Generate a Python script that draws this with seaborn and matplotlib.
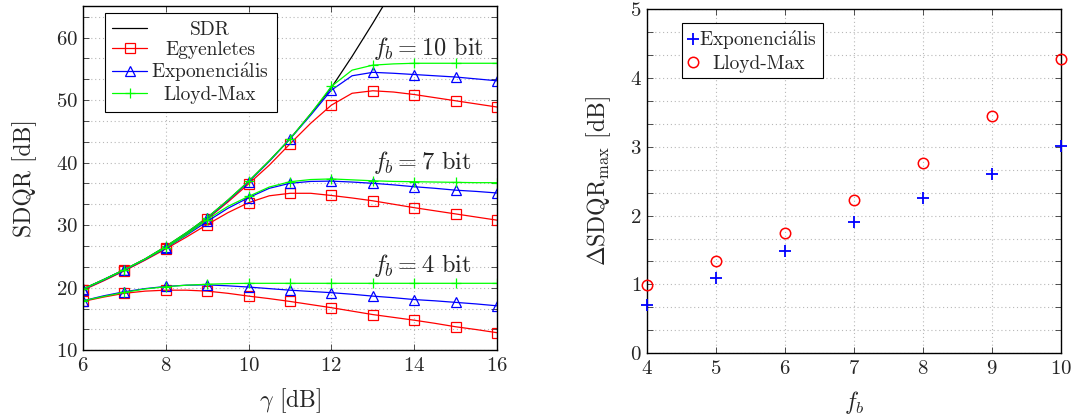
import matplotlib
matplotlib.use("Agg")
import matplotlib.pyplot as plt
import seaborn as sns
from matplotlib.ticker import MultipleLocator, AutoMinorLocator

# gamma [dB] grid (markers drawn at whole dB values only)
gamma = [6, 6.5, 7, 7.5, 8, 8.5, 9, 9.5, 10, 10.5, 11, 11.5, 12, 12.5, 13, 13.5, 14, 14.5, 15, 15.5, 16]

gamma_sdr = [6, 6.5, 7, 7.5, 8, 8.5, 9, 9.5, 10, 10.5, 11, 11.5, 12, 12.5, 13, 13.5]
sdr = [19.8, 21.3, 22.9, 24.6, 26.6, 28.8, 31.2, 34.0, 37.0, 40.3, 43.8, 47.8, 52.0, 57.0, 62.3, 67.8]

# f_b = 10 bit
egy_10 = [19.7, 21.2, 22.8, 24.5, 26.4, 28.6, 31.0, 33.7, 36.6, 39.6, 43.0, 46.3, 49.2, 51.1, 51.5,
          51.3, 50.9, 50.4, 49.9, 49.4, 48.9]
exp_10 = [19.75, 21.3, 22.85, 24.55, 26.5, 28.7, 31.1, 33.9, 36.9, 40.2, 43.8, 47.6, 51.6, 53.9, 54.45,
          54.3, 54.1, 53.9, 53.7, 53.4, 53.1]
lm_10 = [19.8, 21.3, 22.9, 24.6, 26.6, 28.8, 31.2, 34.0, 37.0, 40.3, 43.8, 47.8, 52.2, 54.8, 55.6,
         55.8, 55.9, 55.9, 55.9, 55.9, 55.9]

# f_b = 7 bit
egy_7 = [19.6, 21.1, 22.7, 24.4, 26.2, 28.1, 30.1, 32.0, 33.6, 34.7, 35.1, 35.1, 34.75, 34.35, 33.9,
         33.35, 32.8, 32.3, 31.8, 31.3, 30.8]
exp_7 = [19.7, 21.2, 22.8, 24.5, 26.35, 28.4, 30.6, 32.7, 34.4, 35.9, 36.7, 37.0, 37.05, 36.9, 36.7,
         36.45, 36.15, 35.9, 35.6, 35.4, 35.15]
lm_7 = [19.75, 21.25, 22.85, 24.55, 26.4, 28.5, 30.9, 33.0, 34.6, 36.1, 36.95, 37.3, 37.4, 37.25, 37.1,
        37.0, 36.95, 36.9, 36.85, 36.8, 36.8]

# f_b = 4 bit
egy_4 = [17.8, 18.5, 19.1, 19.45, 19.6, 19.6, 19.45, 19.1, 18.65, 18.25, 17.8, 17.3, 16.8, 16.25, 15.7,
         15.25, 14.8, 14.3, 13.75, 13.3, 12.8]
exp_4 = [17.9, 18.7, 19.35, 19.85, 20.2, 20.4, 20.45, 20.3, 20.1, 19.85, 19.6, 19.4, 19.2, 18.95, 18.65,
         18.4, 18.1, 17.9, 17.65, 17.4, 17.1]
lm_4 = [17.9, 18.6, 19.25, 19.8, 20.15, 20.4, 20.55, 20.65, 20.7, 20.7, 20.7, 20.7, 20.7, 20.7, 20.7,
        20.7, 20.7, 20.7, 20.7, 20.7, 20.7]

# jobb oldali abra
fb = [4, 5, 6, 7, 8, 9, 10]
delta_exp = [0.70, 1.10, 1.48, 1.90, 2.26, 2.60, 3.01]
delta_lm = [0.985, 1.34, 1.75, 2.22, 2.76, 3.45, 4.27]

annot_labels = ["$f_b = 10$ bit", "$f_b = 7$ bit", "$f_b = 4$ bit"]
annot_y = [58.3, 40.1, 23.6]

sns.set_style("ticks")
plt.rcParams['font.family'] = ['cmr10', 'DejaVu Serif']
plt.rcParams['mathtext.fontset'] = 'cm'
plt.rcParams['axes.formatter.use_mathtext'] = True
plt.rcParams['axes.unicode_minus'] = False

RED, BLUE, GREEN = '#ff0000', '#0000ff', '#00ff00'
grid_kw = dict(color='#b8b8b8', linestyle=(0, (1, 2.5)), linewidth=0.8)

fig = plt.figure(figsize=(10.75, 4.2), dpi=100)
ax1 = fig.add_axes([0.0772, 0.1662, 0.3851, 0.8186])
ax2 = fig.add_axes([0.6016, 0.1588, 0.3854, 0.8198])

line_kw = dict(linewidth=0.9, markevery=2, markersize=7, markerfacecolor='none',
               markeredgewidth=0.9, estimator=None, sort=False)

sns.lineplot(x=gamma_sdr, y=sdr, ax=ax1, color='black', linewidth=0.9, label='SDR',
             estimator=None, sort=False)
groups = [(egy_10, exp_10, lm_10), (egy_7, exp_7, lm_7), (egy_4, exp_4, lm_4)]
for i, (e, x, l) in enumerate(groups):
    sns.lineplot(x=gamma, y=e, ax=ax1, color=RED, marker='s', markeredgecolor=RED,
                 label='Egyenletes' if i == 0 else None, **line_kw)
    sns.lineplot(x=gamma, y=x, ax=ax1, color=BLUE, marker='^', markeredgecolor=BLUE,
                 label='Exponenci$\\mathrm{\\acute{a}}$lis' if i == 0 else None, **line_kw)
    sns.lineplot(x=gamma, y=l, ax=ax1, color=GREEN, marker='+', markeredgecolor=GREEN,
                 label='Lloyd-Max' if i == 0 else None, **line_kw)

for lab, yy in zip(annot_labels, annot_y):
    ax1.text(13.0, yy, lab, fontsize=17.5, ha='left', va='center')

ax1.set_xlim(6, 16)
ax1.set_ylim(10, 65)
ax1.xaxis.set_major_locator(MultipleLocator(2))
ax1.yaxis.set_major_locator(MultipleLocator(10))
ax1.yaxis.set_minor_locator(AutoMinorLocator(3))
ax1.set_xlabel('$\\gamma$ [dB]', fontsize=17, labelpad=8)
ax1.set_ylabel('SDQR [dB]', fontsize=17, labelpad=14)

sns.lineplot(x=fb, y=delta_exp, ax=ax2, color=BLUE, marker='+', linestyle='', markersize=8,
             markeredgewidth=1.3, markeredgecolor=BLUE, label='Exponenci$\\mathrm{\\acute{a}}$lis',
             estimator=None, sort=False, clip_on=False, zorder=5)
sns.lineplot(x=fb, y=delta_lm, ax=ax2, color=RED, marker='o', linestyle='', markersize=7.5,
             markeredgewidth=1.1, markerfacecolor='none', markeredgecolor=RED, label='Lloyd-Max',
             estimator=None, sort=False, clip_on=False, zorder=5)
ax2.set_xlim(4, 10)
ax2.set_ylim(0, 5)
ax2.xaxis.set_major_locator(MultipleLocator(1))
ax2.yaxis.set_major_locator(MultipleLocator(1))
ax2.yaxis.set_minor_locator(AutoMinorLocator(3))
ax2.set_xlabel('$f_b$', fontsize=17, labelpad=8)
ax2.set_ylabel('$\\Delta\\mathrm{SDQR}_{\\max}$ [dB]', fontsize=17, labelpad=12)

for ax in (ax1, ax2):
    ax.grid(True, which='major', **grid_kw)
    ax.yaxis.grid(True, which='minor', **grid_kw)
    ax.set_axisbelow(True)
    ax.tick_params(which='both', direction='in', top=True, right=True, labelsize=15,
                   width=0.6, color='#333333')
    ax.tick_params(which='major', length=4)
    ax.tick_params(which='minor', length=4)
    ax.tick_params(axis='x', pad=5)
    for s in ax.spines.values():
        s.set_linewidth(1.0)
        s.set_color('black')

leg1 = ax1.legend(loc='upper left', bbox_to_anchor=(0.052, 0.98), fontsize=14, frameon=True,
                  fancybox=False, framealpha=1, edgecolor='black', handlelength=1.8,
                  handletextpad=0.2, borderpad=0.4, labelspacing=0.1, borderaxespad=0)
leg1.get_frame().set_linewidth(0.8)
leg2 = ax2.legend(loc='upper left', bbox_to_anchor=(0.085, 0.959), fontsize=14, frameon=True,
                  fancybox=False, framealpha=1, edgecolor='black', handlelength=0.5,
                  handletextpad=0.1, borderpad=0.3, labelspacing=0.12, borderaxespad=0)
leg2.get_frame().set_linewidth(0.8)

# legend szovegek kozepre igazitasa (pgfplots-szeru)
fig.canvas.draw()
renderer = fig.canvas.get_renderer()
for leg in (leg1, leg2):
    texts = leg.get_texts()
    widths = [t.get_window_extent(renderer).width for t in texts]
    wmax = max(widths)
    for t, w in zip(texts, widths):
        t.set_position(((wmax - w) / 2, 0))

fig.savefig('out.png', dpi=100)
